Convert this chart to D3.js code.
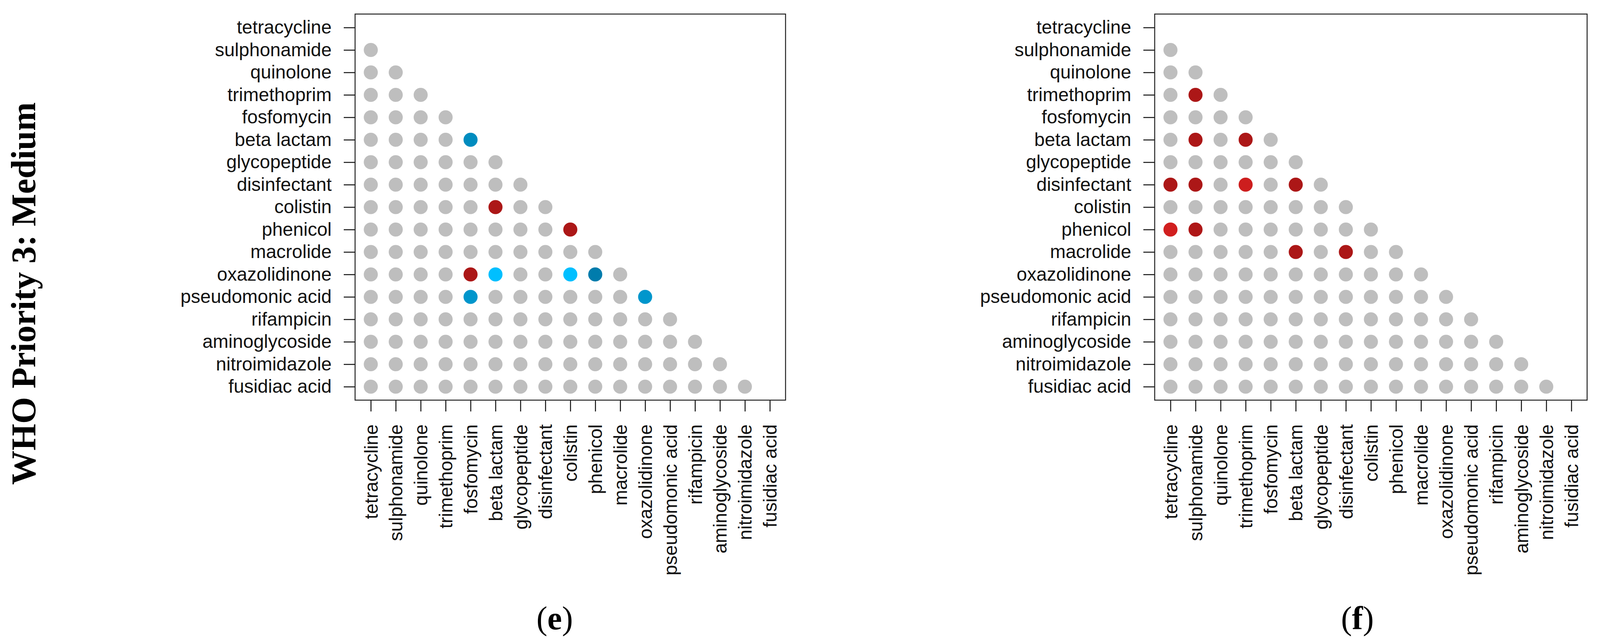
<!DOCTYPE html>
<html>
<head>
<meta charset="utf-8">
<script src="https://cdn.jsdelivr.net/npm/d3@7"></script>
<style>
  body { margin: 0; background: #fff; }
  svg { display: block; }
</style>
</head>
<body>
<div id="chart"></div>
<script>
// drug classes, same order on both axes
const drugs = ["tetracycline", "sulphonamide", "quinolone", "trimethoprim", "fosfomycin",
  "beta lactam", "glycopeptide", "disinfectant", "colistin", "phenicol", "macrolide",
  "oxazolidinone", "pseudomonic acid", "rifampicin", "aminoglycoside", "nitroimidazole",
  "fusidiac acid"];

// highlighted pairs: [row drug, column drug, association strength] (+ red, - blue)
const panelE = [
  ["beta lactam", "fosfomycin", -0.8],
  ["colistin", "beta lactam", 0.9],
  ["phenicol", "colistin", 0.9],
  ["oxazolidinone", "fosfomycin", 0.9],
  ["oxazolidinone", "beta lactam", -0.3],
  ["oxazolidinone", "colistin", -0.3],
  ["oxazolidinone", "phenicol", -0.95],
  ["pseudomonic acid", "fosfomycin", -0.7],
  ["pseudomonic acid", "oxazolidinone", -0.7]
];

const panelF = [
  ["trimethoprim", "sulphonamide", 0.9],
  ["beta lactam", "sulphonamide", 0.9],
  ["beta lactam", "trimethoprim", 0.9],
  ["disinfectant", "tetracycline", 0.9],
  ["disinfectant", "sulphonamide", 0.9],
  ["disinfectant", "trimethoprim", 0.4],
  ["disinfectant", "beta lactam", 0.9],
  ["phenicol", "tetracycline", 0.35],
  ["phenicol", "sulphonamide", 0.85],
  ["macrolide", "beta lactam", 0.9],
  ["macrolide", "disinfectant", 0.9]
];

const panelLabels = ["e", "f"];
const rowTitle = "WHO Priority 3: Medium";

const width = 4097, height = 1642;
const boxTop = 36, boxBottom = 1025;

const svg = d3.select("#chart").append("svg")
  .attr("width", width)
  .attr("height", height)
  .attr("viewBox", `0 0 ${width} ${height}`);

const redScale = d3.scaleLinear().domain([0.3, 1]).range(["#d42020", "#a51515"]);
const blueScale = d3.scaleLinear().domain([-0.3, -1]).range(["#00bfff", "#0077a6"]);
const colorFor = v => v == null ? "#bebebe" : (v > 0 ? redScale(v) : blueScale(v));

function drawPanel(left, right, highlights, label, labelX) {
  const x = d3.scalePoint().domain(drugs).range([left, right]).padding(0.63);
  const y = d3.scalePoint().domain(drugs).range([boxTop, boxBottom]).padding(0.6);

  const lookup = new Map(highlights.map(d => [d[0] + "|" + d[1], d[2]]));

  // lower triangle cells
  const cells = [];
  drugs.forEach((r, i) => {
    drugs.forEach((c, j) => {
      if (j < i) cells.push({ row: r, col: c, value: lookup.get(r + "|" + c) });
    });
  });

  const g = svg.append("g");

  g.append("g")
    .selectAll("circle")
    .data(cells)
    .join("circle")
    .attr("cx", d => x(d.col))
    .attr("cy", d => y(d.row))
    .attr("r", 18)
    .attr("fill", d => colorFor(d.value));

  // y axis
  const yAxis = g.append("g")
    .attr("transform", `translate(${left},0)`)
    .call(d3.axisLeft(y).tickSize(29).tickPadding(31));
  yAxis.select(".domain").remove();
  yAxis.selectAll("line").attr("stroke", "#111").attr("stroke-width", 2.5);
  yAxis.selectAll("text")
    .attr("fill", "#111")
    .style("font-family", "'Liberation Sans', Arial, sans-serif")
    .style("font-size", "48px");

  // x axis with vertical labels
  const xAxis = g.append("g")
    .attr("transform", `translate(0,${boxBottom})`)
    .call(d3.axisBottom(x).tickSize(29));
  xAxis.select(".domain").remove();
  xAxis.selectAll("line").attr("stroke", "#111").attr("stroke-width", 2.5);
  xAxis.selectAll("text")
    .attr("transform", "rotate(-90)")
    .attr("text-anchor", "end")
    .attr("x", -62)
    .attr("y", 0)
    .attr("dy", "0.35em")
    .attr("fill", "#111")
    .style("font-family", "'Liberation Sans', Arial, sans-serif")
    .style("font-size", "48px");

  // frame
  g.append("rect")
    .attr("x", left)
    .attr("y", boxTop)
    .attr("width", right - left)
    .attr("height", boxBottom - boxTop)
    .attr("fill", "none")
    .attr("stroke", "#222")
    .attr("stroke-width", 2.5);

  // sub-figure label
  const t = svg.append("text")
    .attr("x", labelX)
    .attr("y", 1612)
    .attr("text-anchor", "middle")
    .style("font-family", "'Liberation Serif', 'Times New Roman', serif")
    .style("font-size", "84px")
    .attr("fill", "#000");
  t.append("tspan").text("(");
  t.append("tspan").attr("font-weight", "bold").text(label);
  t.append("tspan").text(")");
}

drawPanel(909, 2011, panelE, panelLabels[0], 1420);
drawPanel(2956, 4063, panelF, panelLabels[1], 3475);

// row title on the far left
svg.append("text")
  .attr("transform", "translate(90,752) rotate(-90)")
  .attr("text-anchor", "middle")
  .style("font-family", "'Liberation Serif', 'Times New Roman', serif")
  .style("font-size", "88px")
  .style("font-weight", "bold")
  .attr("fill", "#000")
  .text(rowTitle);
</script>
</body>
</html>
